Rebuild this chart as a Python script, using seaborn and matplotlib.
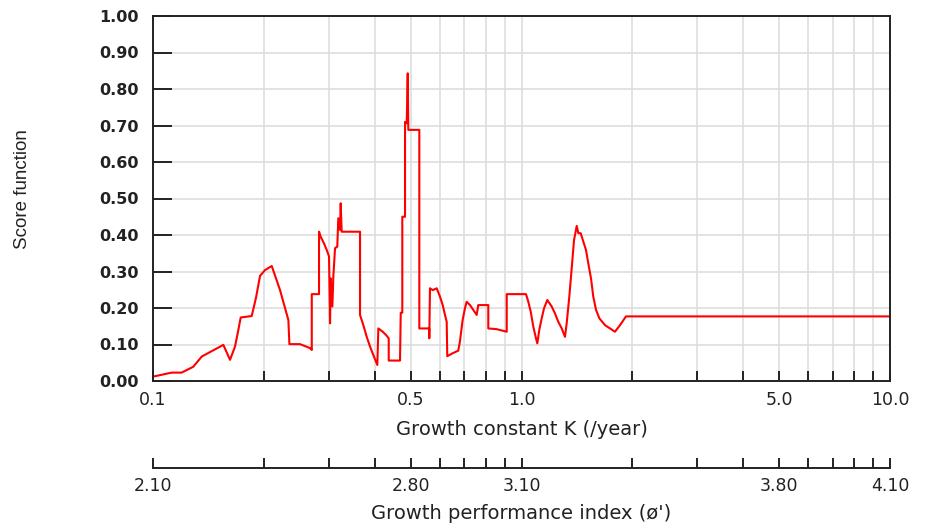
import numpy as np
import pandas as pd
import matplotlib
matplotlib.use("Agg")
import matplotlib.pyplot as plt
import matplotlib.transforms as mtrans
from matplotlib.ticker import FixedLocator, NullFormatter
import seaborn as sns

# ---- data ----
k_values = [0.100, 0.1124, 0.1196, 0.1286, 0.1356, 0.1552, 0.1618, 0.1669, 0.1694, 0.1730,
            0.1853, 0.1904, 0.1952, 0.2014, 0.2100, 0.2212, 0.2330, 0.2345, 0.2506, 0.2668,
            0.2697, 0.2697, 0.2822, 0.2822, 0.2852, 0.2911, 0.2961, 0.3004, 0.3023, 0.3036,
            0.3067, 0.3086, 0.3119, 0.3163, 0.3183, 0.3217, 0.3231, 0.3251, 0.3646, 0.3646,
            0.3722, 0.3802, 0.3882, 0.3962, 0.4062, 0.4088, 0.4201, 0.4289, 0.4362, 0.4362,
            0.4681, 0.4702, 0.4748, 0.4748, 0.4830, 0.4830, 0.4881, 0.4912, 0.4930, 0.5281,
            0.5281, 0.5620, 0.5620, 0.5645, 0.5741, 0.5887, 0.6009, 0.6112, 0.6200, 0.6266,
            0.6289, 0.6503, 0.6734, 0.6806, 0.6922, 0.7023, 0.7098, 0.7247, 0.7397, 0.7556,
            0.7633, 0.8126, 0.8126, 0.8563, 0.9118, 0.9118, 1.0285, 1.0435, 1.0593, 1.0765,
            1.0947, 1.1038, 1.1176, 1.1346, 1.1511, 1.1749, 1.2078, 1.2328, 1.2587, 1.2857,
            1.3122, 1.3262, 1.3481, 1.3685, 1.3885, 1.4121, 1.4262, 1.4475, 1.4714, 1.4962,
            1.5181, 1.5439, 1.5661, 1.5930, 1.6260, 1.6851, 1.7935, 1.8506, 1.9213, 10.0]
score_values = [0.012, 0.023, 0.023, 0.039, 0.067, 0.099, 0.058, 0.094, 0.126, 0.174,
                0.178, 0.229, 0.288, 0.304, 0.315, 0.249, 0.167, 0.101, 0.101, 0.090,
                0.085, 0.238, 0.238, 0.409, 0.395, 0.377, 0.359, 0.341, 0.158, 0.281,
                0.204, 0.286, 0.364, 0.368, 0.446, 0.414, 0.487, 0.409, 0.409, 0.181,
                0.153, 0.121, 0.094, 0.071, 0.044, 0.144, 0.135, 0.126, 0.117, 0.056,
                0.056, 0.187, 0.187, 0.450, 0.450, 0.710, 0.706, 0.843, 0.688, 0.688,
                0.144, 0.144, 0.117, 0.254, 0.249, 0.254, 0.231, 0.208, 0.181, 0.162,
                0.068, 0.076, 0.083, 0.108, 0.167, 0.199, 0.217, 0.208, 0.195, 0.181,
                0.208, 0.208, 0.144, 0.142, 0.135, 0.238, 0.238, 0.217, 0.190, 0.149,
                0.117, 0.103, 0.140, 0.172, 0.199, 0.222, 0.204, 0.185, 0.162, 0.144,
                0.121, 0.158, 0.231, 0.309, 0.386, 0.425, 0.405, 0.405, 0.382, 0.359,
                0.322, 0.281, 0.231, 0.195, 0.172, 0.153, 0.135, 0.153, 0.177, 0.177]

k_major_ticks = [0.1, 0.5, 1.0, 5.0, 10.0]
k_major_labels = ["0.1", "0.5", "1.0", "5.0", "10.0"]
k_minor_ticks = [0.2, 0.3, 0.4, 0.6, 0.7, 0.8, 0.9, 2, 3, 4, 6, 7, 8, 9]
phi_labels = ["2.10", "2.80", "3.10", "3.80", "4.10"]
score_ticks = [0.0, 0.1, 0.2, 0.3, 0.4, 0.5, 0.6, 0.7, 0.8, 0.9, 1.0]
score_labels = ["0.00", "0.10", "0.20", "0.30", "0.40", "0.50",
                "0.60", "0.70", "0.80", "0.90", "1.00"]

sns.set_style("ticks")
plt.rcParams["font.family"] = ["DejaVu Sans"]

W, H = 927, 525
fig = plt.figure(figsize=(W / 100, H / 100), dpi=100)
fig.patch.set_facecolor("white")

L, R, T, B = 153, 890, 16, 381
ax = fig.add_axes([L / W, 1 - B / H, (R - L) / W, (B - T) / H])

df = pd.DataFrame({"K": k_values, "score": score_values})
sns.lineplot(data=df, x="K", y="score", sort=False, estimator=None,
             color="#ff0000", linewidth=1.5, ax=ax)
ax.set_xscale("log")
ax.set_xlim(0.1, 10)
ax.set_ylim(0, 1)

ax.xaxis.set_major_locator(FixedLocator(k_major_ticks))
ax.set_xticklabels(k_major_labels)
ax.xaxis.set_minor_locator(FixedLocator(k_minor_ticks))
ax.xaxis.set_minor_formatter(NullFormatter())
ax.set_yticks(score_ticks)
ax.set_yticklabels(score_labels)

ax.set_axisbelow(True)
ax.grid(True, axis="x", which="both", color="#dedede", linewidth=1.2)
ax.grid(True, axis="y", which="major", color="#dedede", linewidth=1.2)

for s in ax.spines.values():
    s.set_visible(True)
    s.set_color("#222222")
    s.set_linewidth(1.4)

ax.tick_params(axis="y", direction="in", length=14, width=1.4, pad=10.5,
               labelsize=11.5, colors="#222222", right=False)
for t in ax.get_yticklabels():
    t.set_fontweight("bold")
ax.tick_params(axis="x", which="both", direction="in", length=7, width=1.4,
               pad=7.5, labelsize=12.5, colors="#222222", top=False)

ax.set_xlabel("Growth constant K (/year)", fontsize=14, color="#222222", va="center")
ax.xaxis.set_label_coords(0.5, 1 - 429.5 / H,
                          transform=mtrans.blended_transform_factory(ax.transAxes, fig.transFigure))
ax.set_ylabel("Score function", fontsize=13.5, color="#222222",
              family=["Liberation Sans Narrow", "Liberation Sans", "DejaVu Sans"],
              va="center", ha="center")
ax.yaxis.set_label_coords(23 / W, 1 - 189 / H, transform=fig.transFigure)

# ---- second scale: growth performance index ----
ax2 = fig.add_axes([L / W, 1 - 468 / H, (R - L) / W, 0.0001])
ax2.set_xscale("log")
ax2.set_xlim(0.1, 10)
ax2.set_yticks([])
ax2.patch.set_visible(False)
for s in ["left", "right", "top"]:
    ax2.spines[s].set_visible(False)
ax2.spines["bottom"].set_color("#222222")
ax2.spines["bottom"].set_linewidth(1.4)
ax2.xaxis.set_major_locator(FixedLocator(k_major_ticks))
ax2.set_xticklabels(phi_labels)
ax2.xaxis.set_minor_locator(FixedLocator(k_minor_ticks))
ax2.xaxis.set_minor_formatter(NullFormatter())
ax2.tick_params(axis="x", which="both", direction="in", length=7, width=1.4,
                pad=6.5, labelsize=12.5, colors="#222222")
ax2.set_xlabel("Growth performance index (ø')", fontsize=14, color="#222222", va="center")
ax2.xaxis.set_label_coords(0.5, 1 - 513.5 / H,
                           transform=mtrans.blended_transform_factory(ax2.transAxes, fig.transFigure))

fig.savefig("out.png", dpi=100, facecolor="white")
